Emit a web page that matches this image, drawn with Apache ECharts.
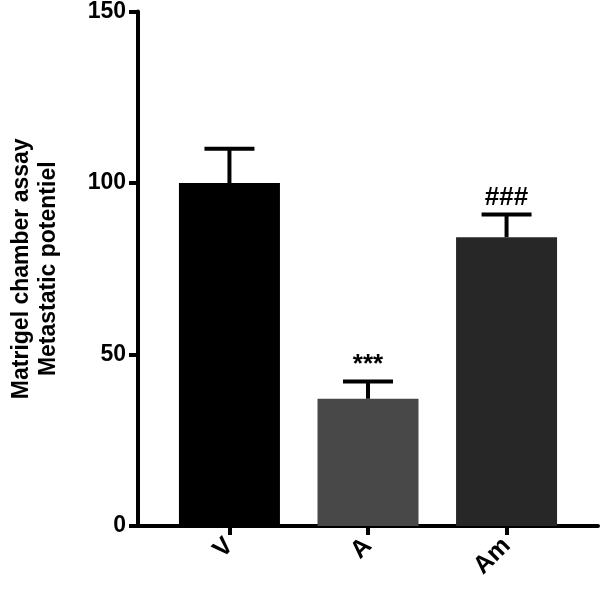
<!DOCTYPE html>
<html><head><meta charset="utf-8">
<script src="https://cdn.jsdelivr.net/npm/echarts@6/dist/echarts.min.js"></script>
<style>body{margin:0}#c{width:600px;height:591px}</style></head>
<body><div id="c"></div>
<script>
var categories = ['V', 'A', 'Am'];
var means = [100, 37.1, 84.2];
var errors = [10, 5, 6.6];
var marks = ['', '***', '###'];
var colors = ['#000000', '#484848', '#272727'];

var chart = echarts.init(document.getElementById('c'));
var font = 'Liberation Sans, Arial, sans-serif';
var barData = [], errData = [];
for (var i = 0; i < categories.length; i++) {
    barData.push({ value: [i, means[i]], itemStyle: { color: colors[i] } });
    errData.push([i, means[i], means[i] + errors[i], marks[i]]);
}
chart.setOption({
    animation: false,
    grid: { left: 120, right: 2, top: 10, bottom: 65 },
    xAxis: {
        type: 'value', min: -0.66, max: 2.66,
        splitLine: { show: false },
        axisLine: { onZero: false, lineStyle: { color: '#000', width: 4 } },
        axisTick: { show: true, customValues: [0, 1, 2], length: 9, lineStyle: { color: '#000', width: 4 } },
        axisLabel: {
            customValues: [0, 1, 2], rotate: 45, margin: 16,
            formatter: function (v) { return categories[Math.round(v)]; },
            fontSize: 25, fontWeight: 'bold', color: '#000', fontFamily: font
        }
    },
    yAxis: {
        type: 'value', min: 0, max: 150, interval: 50,
        name: 'Matrigel chamber assay\nMetastatic potentiel',
        nameLocation: 'middle', nameGap: 76,
        nameTextStyle: { fontSize: 23, fontWeight: 'bold', color: '#000', fontFamily: font, lineHeight: 27 },
        splitLine: { show: false },
        axisLine: { show: true, onZero: false, lineStyle: { color: '#000', width: 4 } },
        axisTick: { show: true, length: 9, lineStyle: { color: '#000', width: 4 } },
        axisLabel: { fontSize: 23, fontWeight: 'bold', color: '#000', fontFamily: font, margin: 12 }
    },
    series: [
        { type: 'bar', barWidth: 101, data: barData },
        {
            type: 'custom', data: errData, z: 5,
            renderItem: function (params, api) {
                var top = api.coord([api.value(0), api.value(2)]);
                var base = api.coord([api.value(0), api.value(1)]);
                var half = 25;
                var st = { stroke: '#000', lineWidth: 4 };
                return {
                    type: 'group', children: [
                        { type: 'line', shape: { x1: top[0], y1: base[1], x2: top[0], y2: top[1] }, style: st },
                        { type: 'line', shape: { x1: top[0] - half, y1: top[1], x2: top[0] + half, y2: top[1] }, style: st },
                        { type: 'text', style: { text: api.value(3), x: top[0], y: top[1] - 4, align: 'center', verticalAlign: 'bottom', fontSize: 26, fontWeight: 'bold', fill: '#000', fontFamily: font } }
                    ]
                };
            }
        }
    ]
});
</script></body></html>
